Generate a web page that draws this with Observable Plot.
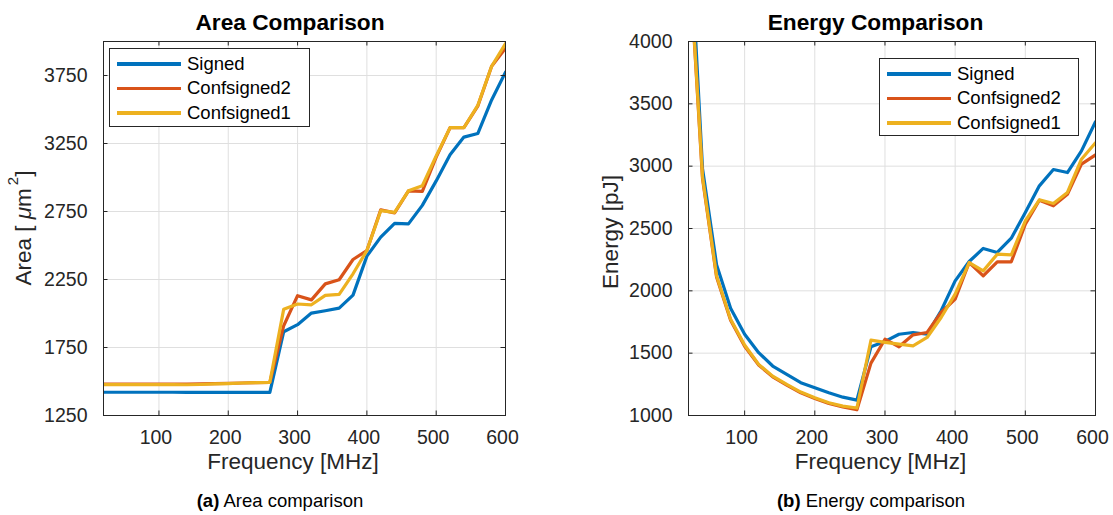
<!DOCTYPE html>
<html>
<head>
<meta charset="utf-8">
<script src="https://cdn.jsdelivr.net/npm/d3@7"></script>
<script src="https://cdn.jsdelivr.net/npm/@observablehq/plot@0.6"></script>
<style>
  html, body { margin: 0; padding: 0; background: #fff; }
  #root { position: relative; width: 1113px; height: 515px; overflow: hidden; font-family: "Liberation Sans", Arial, Helvetica, sans-serif; }
  .chart { position: absolute; top: 0; }
  .legend { position: absolute; box-sizing: border-box; border: 1px solid #262626; background: #fff; }
  .legend .row { position: absolute; left: 0; height: 0; }
  .legend .swatch { position: absolute; height: 3.2px; width: 64px; }
  .legend .lab { position: absolute; font-size: 18.5px; line-height: 18.5px; color: #000; white-space: nowrap; }
  .caption { position: absolute; width: 400px; text-align: center; font-size: 18.5px; line-height: 18.5px; color: #000; white-space: nowrap; }
</style>
</head>
<body>
<div id="root"></div>
<script>
// ---------- data ----------
const freq = [20,40,60,80,100,120,140,160,180,200,220,240,260,280,300,320,340,360,380,400,420,440,460,480,500,520,540,560,580,600];
const seriesNames = ["Signed", "Confsigned2", "Confsigned1"];
const seriesColors = ["#0072BD", "#D95319", "#EDB120"];

const areaSigned      = [1421,1421,1421,1421,1421,1421,1420,1420,1420,1420,1420,1420,1420,1866,1918,2003,2020,2039,2135,2422,2562,2663,2659,2795,2975,3168,3297,3323,3570,3775];
const areaConfsigned2 = [1481,1481,1481,1481,1481,1481,1481,1482,1484,1486,1489,1491,1493,1910,2131,2100,2218,2248,2397,2463,2762,2740,2902,2898,3150,3366,3366,3525,3818,3950];
const areaConfsigned1 = [1477,1477,1477,1477,1477,1477,1476,1478,1482,1485,1489,1491,1494,2032,2070,2064,2133,2140,2292,2463,2756,2744,2902,2939,3159,3366,3366,3530,3818,3985];

const energySigned      = [5100,2980,2210,1860,1652,1504,1397,1330,1263,1222,1182,1147,1123,1551,1594,1652,1666,1652,1840,2080,2235,2340,2308,2422,2628,2842,2973,2949,3123,3356];
const energyConfsigned2 = [4780,2900,2110,1765,1555,1405,1310,1243,1182,1137,1097,1068,1046,1420,1612,1551,1647,1666,1826,1933,2227,2120,2233,2233,2535,2727,2682,2775,3016,3090];
const energyConfsigned1 = [4800,2913,2120,1772,1565,1410,1316,1249,1188,1142,1102,1075,1060,1604,1586,1572,1559,1626,1786,1973,2227,2160,2294,2289,2562,2730,2700,2789,3056,3188];

const xTicks = [100,200,300,400,500,600];
const areaTicks = [1250,1750,2250,2750,3250,3750];
const energyTicks = [1000,1500,2000,2500,3000,3500,4000];
const xDomain = [20, 600];
const areaDomain = [1250, 4000];
const energyDomain = [1000, 4000];

const titles = ["Area Comparison", "Energy Comparison"];
const xLabel = "Frequency [MHz]";
const captions = [["(a)", " Area comparison"], ["(b)", " Energy comparison"]];

// ---------- helpers ----------
function rows(series) {
  const out = [];
  series.forEach((vals, s) => vals.forEach((v, i) => out.push({f: freq[i], v, series: seriesNames[s]})));
  return out;
}

const FONT = '"Liberation Sans", Arial, Helvetica, sans-serif';
const INK = "#262626";
const plain = d => String(d);

function makeChart(cfg) {
  const [y0, y1] = cfg.yDomain;
  const [x0, x1] = xDomain;
  const T = 4.5; // tick length
  return Plot.plot({
    width: cfg.width, height: 515,
    marginLeft: cfg.marginLeft, marginRight: cfg.marginRight, marginTop: 41, marginBottom: 100,
    x: {domain: xDomain},
    y: {domain: cfg.yDomain},
    color: {domain: seriesNames, range: seriesColors},
    style: {fontFamily: FONT, color: INK, background: "transparent", overflow: "visible"},
    marks: [
      Plot.gridX(xTicks, {stroke: "#dfdfdf", strokeOpacity: 1}),
      Plot.gridY(cfg.yTicks, {stroke: "#dfdfdf", strokeOpacity: 1}),
      Plot.line(cfg.data, {x: "f", y: "v", z: "series", stroke: "series", strokeWidth: 3.2, strokeLinejoin: "round", clip: true}),
      // inward ticks on all four sides
      Plot.ruleX(xTicks, {x: d => d, y1: () => y0, y2: () => y0, insetTop: -T, stroke: INK}),
      Plot.ruleX(xTicks, {x: d => d, y1: () => y1, y2: () => y1, insetBottom: -T, stroke: INK}),
      Plot.ruleY(cfg.yTicks, {y: d => d, x1: () => x0, x2: () => x0, insetRight: -T, stroke: INK}),
      Plot.ruleY(cfg.yTicks, {y: d => d, x1: () => x1, x2: () => x1, insetLeft: -T, stroke: INK}),
      Plot.frame({stroke: INK}),
      Plot.axisX(xTicks, {tickSize: 0, tickPadding: 15, fontSize: 19.5, label: null, fill: INK, dx: -3, tickFormat: plain}),
      Plot.axisY(cfg.yTicks, {tickSize: 0, tickPadding: 16, fontSize: 19.5, label: null, fill: INK, tickFormat: plain}),
      Plot.text([cfg.title], {frameAnchor: "top", dy: -18.7, dx: cfg.titleDx, fontSize: 22.7, fontWeight: "bold", fill: "#000", lineAnchor: "middle"}),
      Plot.text([xLabel], {frameAnchor: "bottom", dy: 46, dx: -11.5, fontSize: 22.5, fill: INK, lineAnchor: "middle"})
    ]
  });
}

const root = document.getElementById("root");

const cfgs = [
  {left: 0, width: 556, marginLeft: 103, marginRight: 51, yDomain: areaDomain, yTicks: areaTicks,
   data: rows([areaSigned, areaConfsigned2, areaConfsigned1]), title: titles[0], titleDx: -14.5,
   legend: {left: 109, top: 48, width: 201, height: 79}, captionCenter: 280},
  {left: 556, width: 557, marginLeft: 132, marginRight: 18, yDomain: energyDomain, yTicks: energyTicks,
   data: rows([energySigned, energyConfsigned2, energyConfsigned1]), title: titles[1], titleDx: -16.5,
   legend: {left: 879, top: 58, width: 200, height: 78}, captionCenter: 871}
];

cfgs.forEach((cfg, k) => {
  const chart = makeChart(cfg);
  chart.classList.add("chart");
  chart.style.left = cfg.left + "px";
  root.appendChild(chart);

  // y axis title
  const svg = d3.select(chart);
  const frameMidY = (41 + 415) / 2;
  if (k === 0) {
    const t = svg.append("text")
      .attr("transform", `translate(${cfg.marginLeft - 71.6},${frameMidY}) rotate(-90)`)
      .attr("text-anchor", "middle").attr("fill", INK)
      .style("font-family", FONT).style("font-size", "22.5px");
    t.append("tspan").text("Area [ ");
    t.append("tspan").style("font-style", "italic").text("\u03bc");
    t.append("tspan").text("m");
    t.append("tspan").attr("dy", -13).attr("dx", 3).style("font-size", "15px").text("2");
    t.append("tspan").attr("dy", 13).text("]");
  } else {
    svg.append("text")
      .attr("transform", `translate(${cfg.marginLeft - 70.2},${frameMidY + 4}) rotate(-90)`)
      .attr("text-anchor", "middle").attr("fill", INK)
      .style("font-family", FONT).style("font-size", "22.5px")
      .text("Energy [pJ]");
  }

  // legend
  const lg = document.createElement("div");
  lg.className = "legend";
  Object.assign(lg.style, {left: cfg.legend.left + "px", top: cfg.legend.top + "px", width: cfg.legend.width + "px", height: cfg.legend.height + "px"});
  seriesNames.forEach((name, i) => {
    const row = document.createElement("div");
    row.className = "row";
    row.style.top = (15 + i * 24.5) + "px";
    const sw = document.createElement("div");
    sw.className = "swatch";
    Object.assign(sw.style, {left: "7px", top: "-1.6px", background: seriesColors[i]});
    const lab = document.createElement("div");
    lab.className = "lab";
    Object.assign(lab.style, {left: "77px", top: "-9.5px"});
    lab.textContent = name;
    row.appendChild(sw); row.appendChild(lab);
    lg.appendChild(row);
  });
  root.appendChild(lg);

  // caption
  const cap = document.createElement("div");
  cap.className = "caption";
  cap.style.left = (cfg.captionCenter - 200) + "px";
  cap.style.top = "492px";
  const b = document.createElement("b");
  b.textContent = captions[k][0];
  cap.appendChild(b);
  cap.appendChild(document.createTextNode(captions[k][1]));
  root.appendChild(cap);
});
</script>
</body>
</html>
